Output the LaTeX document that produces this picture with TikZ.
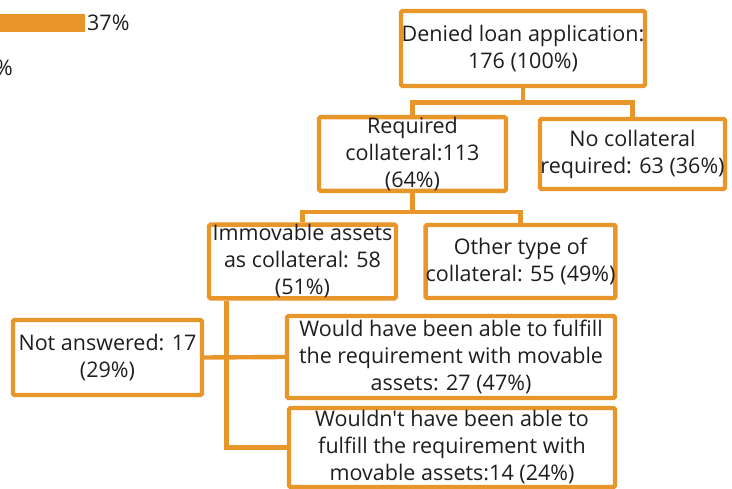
\documentclass[tikz,border=0pt]{standalone}
\usepackage{fontspec}
\newfontfamily\opensans{Open Sans}
\usepackage{tikz}
\definecolor{barorange}{RGB}{232,150,42}
\definecolor{inkgray}{RGB}{30,30,30}

\begin{document}
\begin{tikzpicture}[x=1pt,y=-1pt,
  box/.style={draw=barorange,line width=4.4pt,rounded corners=1.5pt,inner sep=0pt,
    align=center,text=inkgray,font=\opensans\fontsize{21.5}{27}\selectfont},
  link/.style={draw=barorange,line width=4.4pt},
  lbl/.style={inner sep=0pt,text=inkgray,font=\opensans\fontsize{21.5}{27}\selectfont}]
  		\useasboundingbox (0,0) rectangle (732,489);
  		\fill[barorange] (-2,14) rectangle (85,32);
  		\node[lbl,anchor=west] (pctA) at (87,23) {37\%};
  		\node[lbl,anchor=east] (pctB) at (13,68) {\%};
  		\node[box,minimum width=244,minimum height=75] (denied) at (523,48.5) {Denied loan application:\\176 (100\%)};
  		\node[box,minimum width=187,minimum height=70] (req) at (412.5,154) {Required\\collateral:113\\(64\%)};
  		\node[box,minimum width=185,minimum height=70] (nocol) at (632.5,154) {No collateral\\required: 63 (36\%)};
  		\node[box,minimum width=187,minimum height=73] (immov) at (302.5,261.5) {Immovable assets\\as collateral: 58\\(51\%)};
  		\node[box,minimum width=181,minimum height=73] (other) at (520.5,261.5) {Other type of\\collateral: 55 (49\%)};
  		\node[box,minimum width=189,minimum height=75] (noans) at (107.5,357.5) {Not answered: 17\\(29\%)};
  		\node[box,minimum width=328,minimum height=82] (would) at (451,357) {Would have been able to fulfill\\the requirement with movable\\assets: 27 (47\%)};
  		\node[box,minimum width=326,minimum height=79] (wouldnt) at (452,447.5) {Wouldn't have been able to\\fulfill the requirement with\\movable assets:14 (24\%)};
  		\draw[link] (denied.south) -- ++(0,14.5) coordinate (busA);
  		\draw[link] (busA) -| (req.north);
  		\draw[link] (busA) -| (nocol.north);
  		\draw[link] (req.south) -- ++(0,19) coordinate (busB);
  		\draw[link] (busB) -| (immov.north);
  		\draw[link] (busB) -| (other.north);
  		\draw[link] ([xshift=-76]immov.south) |- (wouldnt.west);
  		\draw[link] (noans.east) -- (would.west);
  	\end{tikzpicture}
\end{document}
